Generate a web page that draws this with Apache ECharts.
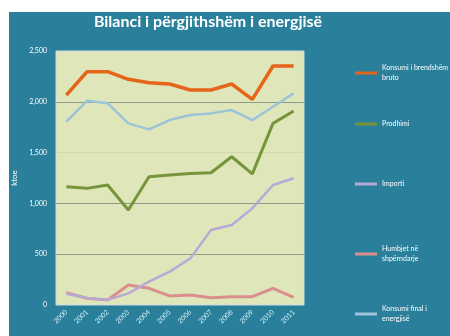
<!DOCTYPE html>
<html>
<head>
<meta charset="utf-8">
<script src="https://cdn.jsdelivr.net/npm/echarts@6/dist/echarts.min.js"></script>
<style>
  html, body { margin: 0; padding: 0; background: #ffffff; }
  #chart { width: 450px; height: 336px; }
</style>
</head>
<body>
<div id="chart"></div>
<script>
// Energy balance, ktoe, 2000-2011
const years = ['2000','2001','2002','2003','2004','2005','2006','2007','2008','2009','2010','2011'];
const grossConsumption = [2066, 2296, 2296, 2221, 2188, 2175, 2116, 2116, 2175, 2024, 2352, 2352];
const production      = [1164, 1148, 1181, 935, 1262, 1279, 1295, 1302, 1459, 1290, 1788, 1909];
const imports         = [110, 70, 50, 115, 230, 328, 459, 738, 787, 951, 1181, 1247];
const losses          = [120, 66, 49, 197, 164, 89, 98, 72, 82, 82, 164, 75];
const finalConsumption= [1804, 2010, 1985, 1788, 1729, 1820, 1870, 1886, 1919, 1820, 1951, 2083];
const yTicks = [0, 500, 1000, 1500, 2000, 2500];

const names = [
  'Konsumi i brendshëm\nbruto',
  'Prodhimi',
  'Importi',
  'Humbjet në\nshpërndarje',
  'Konsumi final i\nenergjisë'
];
const colors = ['#e5651a', '#76943a', '#b8a9d6', '#d98f8d', '#9cc4d6'];
const widths = [3.5, 3, 2.5, 3, 2.5];
const values = [grossConsumption, production, imports, losses, finalConsumption];
const legendTops = [58, 114, 174, 239, 299];

const chart = echarts.init(document.getElementById('chart'));
chart.setOption({
  animation: false,
  backgroundColor: '#ffffff',
  graphic: [{
    type: 'rect', z: -100, silent: true,
    shape: { x: 9, y: 12, width: 441, height: 324 },
    style: { fill: '#2a7f9b' }
  }],
  title: {
    text: 'Bilanci i përgjithshëm i energjisë',
    left: 203, top: 9, textAlign: 'center',
    textStyle: { color: '#ffffff', fontFamily: 'Lato', fontSize: 16, fontWeight: 'bold' }
  },
  legend: names.map((n, i) => ({
    data: [n], orient: 'vertical', left: 350, top: legendTops[i],
    itemWidth: 22, itemHeight: 3, itemGap: 4,
    icon: 'rect',
    textStyle: { color: '#ffffff', fontSize: 7, fontFamily: 'Lato', lineHeight: 10 }
  })),
  grid: {
    left: 56, right: 146, top: 51, bottom: 31,
    show: true, backgroundColor: '#dfe7ba', borderColor: '#c8dde4', borderWidth: 1
  },
  xAxis: {
    type: 'category', data: years, boundaryGap: true,
    axisLine: { show: false }, axisTick: { show: false },
    axisLabel: { color: '#cfeef7', fontSize: 7, rotate: 45, margin: 6, fontFamily: 'Lato' }
  },
  yAxis: {
    type: 'value', min: yTicks[0], max: yTicks[yTicks.length - 1], interval: 500,
    name: 'ktoe', nameLocation: 'middle', nameGap: 38, nameRotate: 90,
    nameTextStyle: { color: '#ffffff', fontSize: 8, fontFamily: 'Lato' },
    axisLine: { show: false }, axisTick: { show: false },
    axisLabel: {
      color: '#ffffff', fontSize: 7, margin: 9, fontFamily: 'Lato',
      formatter: v => v.toLocaleString('en-US')
    },
    splitLine: { lineStyle: { color: ['rgba(0,0,0,0)', '#8f9a86', '#8f9a86', '#d0d9b0', '#8f9a86', 'rgba(0,0,0,0)'], width: 1 } }
  },
  series: names.map((n, i) => ({
    name: n, type: 'line', data: values[i], symbol: 'none',
    lineStyle: { color: colors[i], width: widths[i] },
    itemStyle: { color: colors[i] },
    z: 10 - i
  }))
});
</script>
</body>
</html>
